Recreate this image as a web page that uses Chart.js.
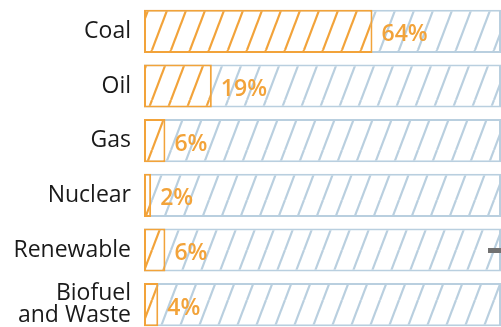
<!DOCTYPE html>
<html>
<head>
<meta charset="utf-8">
<script src="https://cdn.jsdelivr.net/npm/chart.js@4.4.1/dist/chart.umd.min.js"></script>
<style>
  html, body { margin: 0; padding: 0; background: #ffffff; overflow: hidden; }
  #wrap { width: 501px; height: 332px; }
</style>
</head>
<body>
<div id="wrap"><canvas id="c" width="501" height="332"></canvas></div>
<script>
const categories = ['Coal', 'Oil', 'Gas', 'Nuclear', 'Renewable', ['Biofuel', 'and Waste']];
const shareValues = [64, 19, 6, 2, 6, 4];
const totalValues = [100, 100, 100, 100, 100, 100];
const valueLabels = ['64%', '19%', '6%', '2%', '6%', '4%'];

const ORANGE = '#F2A33A';
const BLUE = '#B9CFDF';

function hatch(color) {
  const w = 19, h = 50;
  const c = document.createElement('canvas');
  c.width = w; c.height = h;
  const g = c.getContext('2d');
  g.fillStyle = '#ffffff';
  g.fillRect(0, 0, w, h);
  g.strokeStyle = color;
  g.lineWidth = 2.2;
  for (let k = -1; k <= 1; k++) {
    g.beginPath();
    g.moveTo(k * w, h);
    g.lineTo((k + 1) * w, 0);
    g.stroke();
  }
  return g.createPattern(c, 'repeat');
}

const valueLabelPlugin = {
  id: 'valueLabels',
  afterDatasetsDraw(chart) {
    const meta = chart.getDatasetMeta(0);
    const ctx = chart.ctx;
    ctx.save();
    ctx.font = '600 23px "Open Sans"';
    ctx.fillStyle = ORANGE;
    ctx.textAlign = 'left';
    ctx.textBaseline = 'alphabetic';
    meta.data.forEach((bar, i) => {
      ctx.fillText(valueLabels[i], bar.x + 9, bar.y + 10);
    });
    // small grey marker at the right edge of the Renewable row
    const yScale = chart.scales.y;
    const ry = yScale.getPixelForValue(4);
    ctx.fillStyle = '#717171';
    ctx.fillRect(chart.chartArea.right - 13, ry - 2, 14, 5);
    ctx.restore();
  }
};

new Chart(document.getElementById('c'), {
  type: 'bar',
  data: {
    labels: categories,
    datasets: [
      {
        data: shareValues,
        backgroundColor: hatch(ORANGE),
        borderColor: ORANGE,
        borderWidth: 2,
        borderSkipped: false,
        grouped: false,
        barPercentage: 0.79,
        categoryPercentage: 1
      },
      {
        data: totalValues,
        backgroundColor: hatch(BLUE),
        borderColor: BLUE,
        borderWidth: 2,
        borderSkipped: false,
        grouped: false,
        barPercentage: 0.79,
        categoryPercentage: 1
      }
    ]
  },
  options: {
    indexAxis: 'y',
    responsive: false,
    animation: false,
    layout: { padding: { top: 4, right: 0, bottom: 0, left: 0 } },
    plugins: { legend: { display: false }, tooltip: { enabled: false } },
    scales: {
      x: { display: false, min: 0, max: 100 },
      y: {
        grid: { display: false, drawTicks: false },
        border: { display: false },
        ticks: {
          color: '#1a1a1a',
          padding: 13,
          font: { family: '"Open Sans"', size: 23, lineHeight: 0.96 }
        },
        afterFit(scale) {
          scale.width = 144;
          scale.paddingTop = 0;
          scale.paddingBottom = 0;
        }
      }
    }
  },
  plugins: [valueLabelPlugin]
});
</script>
</body>
</html>
